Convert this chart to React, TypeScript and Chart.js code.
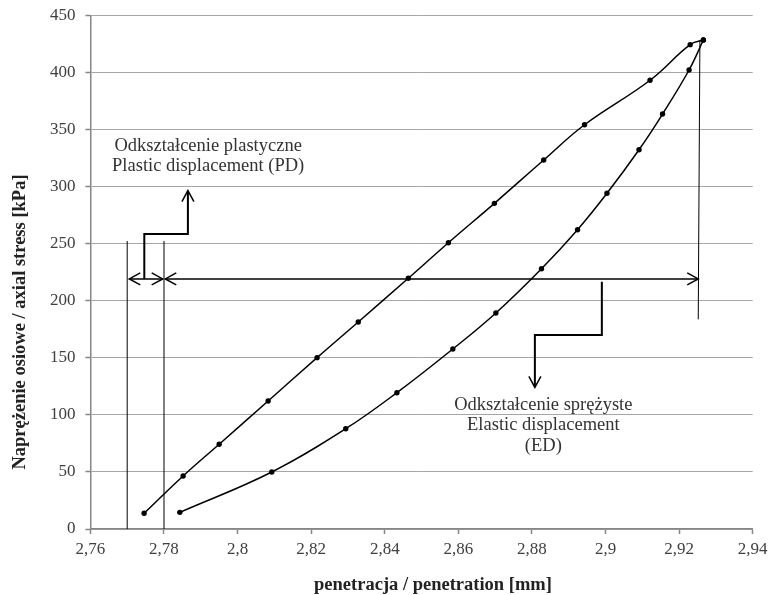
import React, { useEffect, useRef } from 'react';
import { Chart, registerables } from 'chart.js';

Chart.register(...registerables);

// ---- data ----
const loadX = [2.7746, 2.7852, 2.795, 2.8083, 2.8216, 2.8328, 2.8464, 2.8573, 2.8698, 2.8832, 2.8943, 2.9121, 2.923, 2.9266];
const loadY = [13.8, 46.5, 74.3, 112.2, 150.2, 181.5, 219.8, 251.0, 285.5, 323.5, 354.4, 393.4, 424.6, 428.7];

const unloadX = [2.9266, 2.9227, 2.9155, 2.9091, 2.9004, 2.8924, 2.8826, 2.8702, 2.8585, 2.8433, 2.8294, 2.8093, 2.7843];
const unloadY = [428.7, 402.4, 363.8, 332.5, 294.3, 262.4, 228.2, 189.4, 157.8, 119.5, 87.9, 50.0, 14.6];

const xTickValues = [2.76, 2.78, 2.8, 2.82, 2.84, 2.86, 2.88, 2.9, 2.92, 2.94];
const xTickLabels = ['2,76', '2,78', '2,8', '2,82', '2,84', '2,86', '2,88', '2,9', '2,92', '2,94'];
const yTickValues = [0, 50, 100, 150, 200, 250, 300, 350, 400, 450];
const yTickLabels = ['0', '50', '100', '150', '200', '250', '300', '350', '400', '450'];

const xTitle = 'penetracja / penetration [mm]';
const yTitle = 'Naprężenie osiowe / axial stress [kPa]';
const pdLabel = ['Odkształcenie plastyczne', 'Plastic displacement (PD)'];
const edLabel = ['Odkształcenie sprężyste', 'Elastic displacement', '(ED)'];

// ---- annotation geometry, in data units ----
const guideLines = [
  { x1: 2.77, y1: 0, x2: 2.77, y2: 252.5 },
  { x1: 2.78, y1: 0, x2: 2.78, y2: 252.5 },
  { x1: 2.92565, y1: 428.7, x2: 2.9252, y2: 183.8 },
];
const dimArrows = [
  { from: 2.77057, to: 2.77965, y: 219.2 },
  { from: 2.78035, to: 2.9252, y: 219.2 },
];
const pdCallout = [[2.77465, 219.2], [2.77465, 258.6], [2.7865, 258.6], [2.7865, 296.6]];
const edCallout = [[2.899, 216.8], [2.899, 170.1], [2.8808, 170.1], [2.8808, 124.2]];
const pdLabelAnchor = { x: 2.792, y: 335.3 };
const edLabelAnchor = { x: 2.8831, y: 108.7 };

const FONT = '"Liberation Serif", "Times New Roman", serif';

function arrowHead(ctx: CanvasRenderingContext2D, tx: number, ty: number, dx: number, dy: number) {
  const len = 11;
  const half = 6;
  const m = Math.hypot(dx, dy) || 1;
  const ux = dx / m, uy = dy / m;
  const bx = tx - ux * len, by = ty - uy * len;
  ctx.beginPath();
  ctx.moveTo(bx - uy * half, by + ux * half);
  ctx.lineTo(tx, ty);
  ctx.lineTo(bx + uy * half, by - ux * half);
  ctx.stroke();
}

const annotationPlugin = {
  id: 'annotations',
  afterDatasetsDraw(chart: any) {
    const { ctx, scales } = chart;
    const X = (v: number) => scales.x.getPixelForValue(v);
    const Y = (v: number) => scales.y.getPixelForValue(v);
    ctx.save();
    ctx.strokeStyle = '#000';
    ctx.lineCap = 'butt';

    // thin guide lines
    ctx.lineWidth = 1;
    guideLines.forEach((g) => {
      ctx.beginPath();
      ctx.moveTo(X(g.x1), Y(g.y1));
      ctx.lineTo(X(g.x2), Y(g.y2));
      ctx.stroke();
    });

    // dimension double arrows
    ctx.lineWidth = 1.5;
    dimArrows.forEach((a) => {
      const x1 = X(a.from), x2 = X(a.to), y = Y(a.y);
      ctx.beginPath();
      ctx.moveTo(x1, y);
      ctx.lineTo(x2, y);
      ctx.stroke();
      arrowHead(ctx, x1, y, -1, 0);
      arrowHead(ctx, x2, y, 1, 0);
    });

    // callouts
    ctx.lineWidth = 2;
    [pdCallout, edCallout].forEach((pts) => {
      ctx.beginPath();
      pts.forEach((p, i) => {
        const px = X(p[0]), py = Y(p[1]);
        if (i === 0) ctx.moveTo(px, py);
        else ctx.lineTo(px, py);
      });
      ctx.stroke();
      const n = pts.length;
      const tx = X(pts[n - 1][0]), ty = Y(pts[n - 1][1]);
      const px = X(pts[n - 2][0]), py = Y(pts[n - 2][1]);
      ctx.lineWidth = 1.5;
      arrowHead(ctx, tx, ty, tx - px, ty - py);
      ctx.lineWidth = 2;
    });

    // labels
    ctx.fillStyle = '#333';
    ctx.font = `18.5px ${FONT}`;
    ctx.textAlign = 'center';
    ctx.textBaseline = 'middle';
    const lh = 20;
    pdLabel.forEach((t, i) => ctx.fillText(t, X(pdLabelAnchor.x), Y(pdLabelAnchor.y) + i * lh));
    edLabel.forEach((t, i) => ctx.fillText(t, X(edLabelAnchor.x), Y(edLabelAnchor.y) + i * (lh + 0.5)));
    ctx.restore();
  },
  afterDraw(chart: any) {
    const { ctx, chartArea } = chart;
    ctx.save();
    ctx.fillStyle = '#222';
    ctx.font = `bold 18.5px ${FONT}`;
    ctx.textAlign = 'center';
    ctx.textBaseline = 'middle';
    // x title
    ctx.fillText(xTitle, chartArea.left + 342.6, chartArea.bottom + 56);
    // y title
    ctx.translate(chartArea.left - 70.4, chartArea.top + 306.3);
    ctx.rotate(-Math.PI / 2);
    ctx.fillText(yTitle, 0, 0);
    ctx.restore();
  },
};

export default function App() {
  const ref = useRef<HTMLCanvasElement | null>(null);

  useEffect(() => {
    if (!ref.current) return;
    const tickFont = { family: FONT, size: 17 };
    const chart = new Chart(ref.current, {
      type: 'scatter',
      data: {
        datasets: [
          {
            label: 'load',
            data: loadX.map((x, i) => ({ x, y: loadY[i] })),
            showLine: true,
            borderColor: '#000',
            backgroundColor: '#000',
            borderWidth: 1.5,
            pointRadius: 2.7,
            pointBorderWidth: 0,
            tension: 0.4,
          },
          {
            label: 'unload',
            data: unloadX.map((x, i) => ({ x, y: unloadY[i] })),
            showLine: true,
            borderColor: '#000',
            backgroundColor: '#000',
            borderWidth: 1.5,
            pointRadius: 2.7,
            pointBorderWidth: 0,
            tension: 0.4,
          },
        ],
      },
      options: {
        animation: false,
        responsive: false,
        devicePixelRatio: 1,
        layout: { padding: { left: 0, right: 15.3, top: 15.7, bottom: 0 } },
        plugins: { legend: { display: false }, tooltip: { enabled: false } },
        scales: {
          x: {
            type: 'linear',
            min: 2.76,
            max: 2.94,
            afterBuildTicks: (s: any) => {
              s.ticks = xTickValues.map((v) => ({ value: v }));
            },
            afterFit: (s: any) => {
              s.height = 595 - 529;
              s.paddingLeft = 0;
              s.paddingRight = 0;
            },
            ticks: {
              callback: (_v: any, i: number) => xTickLabels[i],
              font: tickFont,
              color: '#404040',
              padding: 5,
              maxRotation: 0,
              autoSkip: false,
            },
            grid: { drawOnChartArea: false, tickLength: 5, tickColor: '#868686', tickWidth: 1.5 },
            border: { color: '#868686', width: 1.5 },
          },
          y: {
            type: 'linear',
            min: 0,
            max: 450,
            afterBuildTicks: (s: any) => {
              s.ticks = yTickValues.map((v) => ({ value: v }));
            },
            afterFit: (s: any) => {
              s.width = 90.4;
              s.paddingTop = 0;
              s.paddingBottom = 0;
            },
            ticks: {
              callback: (_v: any, i: number) => yTickLabels[i],
              font: tickFont,
              color: '#404040',
              padding: 10,
              autoSkip: false,
            },
            grid: { color: '#a6a6a6', lineWidth: 1, tickLength: 5, tickColor: '#868686', tickWidth: 1.5 },
            border: { color: '#868686', width: 1.5 },
          },
        },
      },
      plugins: [annotationPlugin],
    } as any);
    return () => chart.destroy();
  }, []);

  return (
    <div style={{ position: 'absolute', left: 0, top: 0, width: 768, height: 595, background: '#fff' }}>
      <canvas ref={ref} width={768} height={595} style={{ display: 'block' }} />
    </div>
  );
}
